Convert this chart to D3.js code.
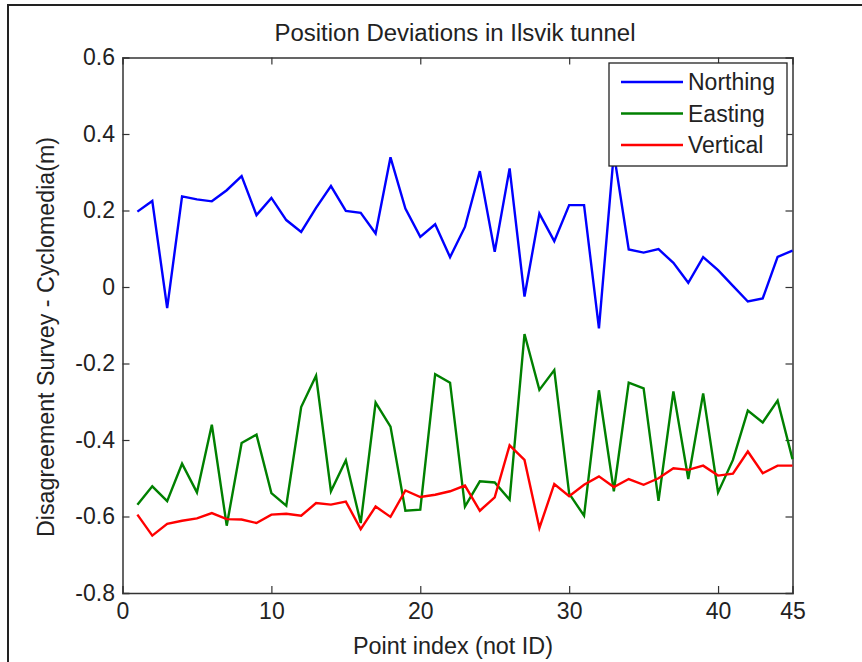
<!DOCTYPE html>
<html>
<head>
<meta charset="utf-8">
<script src="https://cdn.jsdelivr.net/npm/d3@7"></script>
<style>
  html, body { margin: 0; padding: 0; background: #fff; }
  svg { display: block; }
  text { font-family: "Liberation Sans", Arial, Helvetica, sans-serif; fill: #222; }
</style>
</head>
<body>
<div id="chart"></div>
<script>
// Point indices 1..45, one reading per point
const pointIndex = [
  1, 2, 3, 4, 5, 6, 7, 8, 9, 10, 11, 12, 13, 14, 15,
  16, 17, 18, 19, 20, 21, 22, 23, 24, 25, 26, 27, 28, 29, 30,
  31, 32, 33, 34, 35, 36, 37, 38, 39, 40, 41, 42, 43, 44, 45
];

const northing = [
  0.197, 0.225, -0.055, 0.237, 0.229, 0.224, 0.253, 0.29, 0.188, 0.233,
  0.175, 0.144, 0.207, 0.264, 0.199, 0.194, 0.14, 0.339, 0.205, 0.131,
  0.164, 0.078, 0.157, 0.303, 0.092, 0.31, -0.025, 0.192, 0.12, 0.214,
  0.214, -0.108, 0.35, 0.098, 0.09, 0.099, 0.063, 0.011, 0.078, 0.044,
  0.003, -0.038, -0.03, 0.079, 0.095
];

const easting = [
  -0.569, -0.521, -0.56, -0.462, -0.537, -0.36, -0.624, -0.408, -0.386, -0.539,
  -0.572, -0.314, -0.232, -0.534, -0.453, -0.617, -0.302, -0.365, -0.585, -0.582,
  -0.228, -0.25, -0.574, -0.508, -0.511, -0.556, -0.123, -0.269, -0.217, -0.54,
  -0.598, -0.27, -0.534, -0.25, -0.265, -0.559, -0.273, -0.502, -0.278, -0.537,
  -0.452, -0.323, -0.354, -0.297, -0.45
];

const vertical = [
  -0.595, -0.65, -0.619, -0.611, -0.605, -0.591, -0.607, -0.608, -0.617, -0.595,
  -0.593, -0.598, -0.565, -0.569, -0.561, -0.633, -0.574, -0.601, -0.532, -0.549,
  -0.543, -0.534, -0.519, -0.585, -0.55, -0.414, -0.452, -0.63, -0.515, -0.547,
  -0.517, -0.495, -0.523, -0.502, -0.517, -0.5, -0.474, -0.478, -0.467, -0.493,
  -0.488, -0.43, -0.487, -0.467, -0.467
];

const seriesNames  = ['Northing', 'Easting', 'Vertical'];
const seriesColors = ['#0000ff', '#008000', '#ff0000'];
const xTicks = [0, 10, 20, 30, 40, 45];
const yTicks = [-0.8, -0.6, -0.4, -0.2, 0, 0.2, 0.4, 0.6];
const yTickLabels = ['-0.8', '-0.6', '-0.4', '-0.2', '0', '0.2', '0.4', '0.6'];

const W = 862, H = 662;
const plot = { left: 122.5, right: 792.5, top: 57.5, bottom: 593 };

const svg = d3.select('#chart').append('svg')
  .attr('width', W).attr('height', H);

// outer figure frame (only top and left edges show in the picture)
svg.append('path')
  .attr('d', `M8,${H} L8,5 L${W},5`)
  .attr('fill', 'none')
  .attr('stroke', '#222')
  .attr('stroke-width', 2);

const x = d3.scaleLinear().domain([0, 45]).range([plot.left, plot.right]);
const y = d3.scaleLinear().domain([-0.8, 0.6]).range([plot.bottom, plot.top]);

// axes, MATLAB style: inward ticks on all four sides
const tickLen = 7;
const axisBottom = svg.append('g')
  .attr('transform', `translate(0,${plot.bottom})`)
  .call(d3.axisBottom(x).tickValues(xTicks).tickSize(-tickLen).tickPadding(10).tickFormat(d3.format('d')));
const axisTop = svg.append('g')
  .attr('transform', `translate(0,${plot.top})`)
  .call(d3.axisTop(x).tickValues(xTicks).tickSize(-tickLen).tickFormat(''));
const axisLeft = svg.append('g')
  .attr('transform', `translate(${plot.left},0)`)
  .call(d3.axisLeft(y).tickValues(yTicks).tickSize(-tickLen).tickPadding(7.5)
    .tickFormat((d, i) => yTickLabels[i]));
const axisRight = svg.append('g')
  .attr('transform', `translate(${plot.right},0)`)
  .call(d3.axisRight(y).tickValues(yTicks).tickSize(-tickLen).tickFormat(''));

[axisBottom, axisTop, axisLeft, axisRight].forEach(g => {
  g.select('.domain').attr('stroke', '#333').attr('stroke-width', 1.5);
  g.selectAll('.tick line').attr('stroke', '#333').attr('stroke-width', 1.2);
  g.selectAll('.tick text')
    .attr('font-size', 23)
    .attr('fill', '#222')
    .style('font-family', '"Liberation Sans", Arial, sans-serif');
});
// edge ticks coincide with the box; hide those
axisTop.selectAll('.tick').filter(d => d === 0 || d === 45).select('line').remove();
axisBottom.selectAll('.tick').filter(d => d === 0 || d === 45).select('line').remove();
axisLeft.selectAll('.tick').filter(d => d === -0.8 || d === 0.6).select('line').remove();
axisRight.selectAll('.tick').filter(d => d === -0.8 || d === 0.6).select('line').remove();

// data lines
const allSeries = [northing, easting, vertical];
const line = d3.line()
  .x((d, i) => x(pointIndex[i]))
  .y(d => y(d));

svg.append('g').selectAll('path')
  .data(allSeries)
  .join('path')
  .attr('d', d => line(d))
  .attr('fill', 'none')
  .attr('stroke', (d, i) => seriesColors[i])
  .attr('stroke-width', 2.4)
  .attr('stroke-linejoin', 'miter');

// legend
const legend = svg.append('g').attr('transform', 'translate(609,63)');
legend.append('rect')
  .attr('width', 178).attr('height', 103)
  .attr('fill', '#fff')
  .attr('stroke', '#222')
  .attr('stroke-width', 1.3);
seriesNames.forEach((name, i) => {
  const cy = 19 + i * 31.5;
  legend.append('line')
    .attr('x1', 12).attr('x2', 74)
    .attr('y1', cy).attr('y2', cy)
    .attr('stroke', seriesColors[i])
    .attr('stroke-width', 2.4);
  legend.append('text')
    .attr('x', 79).attr('y', cy + 8)
    .attr('font-size', 23)
    .text(name);
});

// title and axis labels
svg.append('text')
  .attr('x', 455).attr('y', 41)
  .attr('text-anchor', 'middle')
  .attr('font-size', 23)
  .attr('textLength', 361)
  .attr('lengthAdjust', 'spacingAndGlyphs')
  .text('Position Deviations in Ilsvik tunnel');

svg.append('text')
  .attr('x', 453).attr('y', 654)
  .attr('text-anchor', 'middle')
  .attr('font-size', 23)
  .attr('textLength', 200)
  .attr('lengthAdjust', 'spacingAndGlyphs')
  .text('Point index (not ID)');

svg.append('text')
  .attr('transform', 'translate(54,337) rotate(-90)')
  .attr('text-anchor', 'middle')
  .attr('font-size', 23)
  .attr('textLength', 400)
  .attr('lengthAdjust', 'spacingAndGlyphs')
  .text('Disagreement Survey - Cyclomedia(m)');
</script>
</body>
</html>
